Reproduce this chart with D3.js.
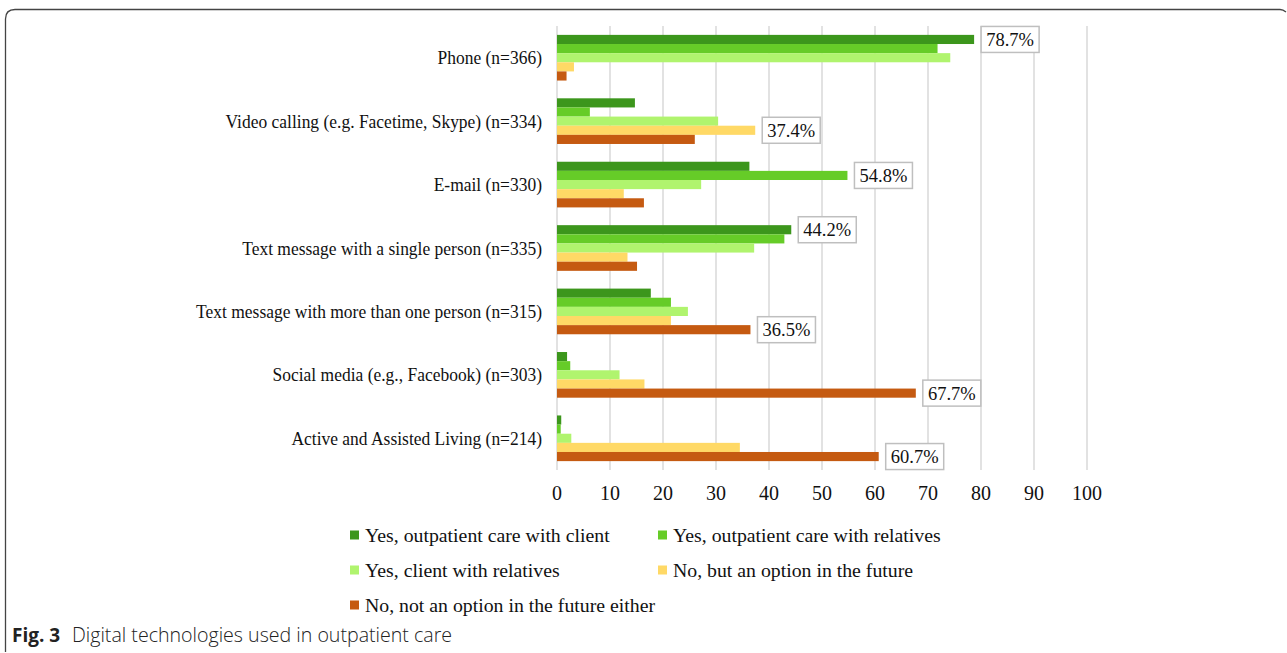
<!DOCTYPE html>
<meta charset="utf-8">
<head>
    <title>Digital technologies used in outpatient care</title>
    <script type="text/javascript" src="https://cdn.jsdelivr.net/npm/d3@7"></script>
    <style>
        body { margin: 0; background: #fff; }
        .cat text, .tick text { font-family: "Liberation Serif", "Times New Roman", serif; }
  </style>
</head>
<body>
    <div id="chart"></div>
    <script>
        // data (percent)
        var categories = ["Phone (n=366)", "Video calling (e.g. Facetime, Skype) (n=334)", "E-mail (n=330)",
          "Text message with a single person (n=335)", "Text message with more than one person (n=315)",
          "Social media (e.g., Facebook) (n=303)", "Active and Assisted Living (n=214)"]
        var seriesNames = ["Yes, outpatient care with client", "Yes, outpatient care with relatives",
          "Yes, client with relatives", "No, but an option in the future", "No, not an option in the future either"]
        var seriesColors = ["#3c961c", "#66cc28", "#b0f46e", "#ffd966", "#c55a11"]
        var careClient    = [78.7, 14.7, 36.3, 44.2, 17.7, 1.9, 0.8]
        var careRelatives = [71.8, 6.2, 54.8, 42.9, 21.5, 2.5, 0.7]
        var clientRel     = [74.2, 30.4, 27.2, 37.2, 24.7, 11.8, 2.7]
        var futureOption  = [3.2, 37.4, 12.6, 13.3, 21.5, 16.5, 34.5]
        var notFuture     = [1.8, 26.0, 16.4, 15.1, 36.5, 67.7, 60.7]
        var seriesValues = [careClient, careRelatives, clientRel, futureOption, notFuture]
        // which series gets the boxed label in each category
        var labelSeries = [0, 3, 1, 0, 4, 4, 4]
        var xTicks = [0, 10, 20, 30, 40, 50, 60, 70, 80, 90, 100]

        var width = 1287, height = 653
        var plot = {left: 557, right: 1087, top: 26, bottom: 470}

        var svg = d3.select("#chart").append("svg")
          .attr("width", width).attr("height", height)

        // frame with rounded top-left corner
        svg.append("path")
          .attr("d", "M5.5,652 L5.5,19 Q5.5,9.5 15,9.5 L1280,9.5 Q1283,9.5 1286,12")
          .attr("fill", "none").attr("stroke", "#444").attr("stroke-width", 1.3)

        var x = d3.scaleLinear().domain([0, 100]).range([plot.left, plot.right])
        var y = d3.scaleBand().domain(categories).range([plot.top, plot.bottom]).paddingInner(0.28).paddingOuter(0.14)
        var ySub = d3.scaleBand().domain(d3.range(seriesNames.length)).range([0, y.bandwidth()])

        // gridlines
        svg.append("g").selectAll("line")
          .data(xTicks).enter().append("line")
            .attr("x1", d => x(d)).attr("x2", d => x(d))
            .attr("y1", plot.top).attr("y2", plot.bottom)
            .attr("stroke", "#d9d9d9").attr("stroke-width", 1.5)

        // tick labels
        svg.append("g").attr("class", "tick").selectAll("text")
          .data(xTicks).enter().append("text")
            .attr("x", d => x(d)).attr("y", 500)
            .attr("text-anchor", "middle")
            .attr("font-size", "20px").attr("fill", "#111")
            .text(d => d)

        // category labels (slightly narrow, like the original)
        svg.append("g").attr("class", "cat").selectAll("text")
          .data(categories).enter().append("text")
            .attr("transform", d => "translate(542," + (y(d) + y.bandwidth() / 2 + 6.5) + ") scale(0.92,1)")
            .attr("text-anchor", "end")
            .attr("font-size", "19px").attr("fill", "#111")
            .text(d => d)

        // bars
        seriesValues.forEach(function(vals, s) {
          svg.append("g").selectAll("rect")
            .data(vals).enter().append("rect")
              .attr("x", x(0))
              .attr("y", (d, i) => y(categories[i]) + ySub(s))
              .attr("width", d => x(d) - x(0))
              .attr("height", ySub.bandwidth())
              .attr("fill", seriesColors[s])
        })

        // boxed value labels
        var lab = svg.append("g").attr("class", "cat")
        labelSeries.forEach(function(s, i) {
          var v = seriesValues[s][i]
          var cy = y(categories[i]) + ySub(s) + ySub.bandwidth() / 2
          var bx = x(v) + 7
          lab.append("rect")
            .attr("x", bx).attr("y", cy - 13).attr("width", 58).attr("height", 26)
            .attr("fill", "#fff").attr("stroke", "#bfbfbf").attr("stroke-width", 1.5)
          lab.append("text")
            .attr("x", bx + 29).attr("y", cy + 6.5)
            .attr("text-anchor", "middle").attr("font-size", "18.5px").attr("fill", "#111")
            .text(v.toFixed(1) + "%")
        })

        // legend
        var legend = svg.append("g").attr("class", "cat")
        seriesNames.forEach(function(name, i) {
          var lx = i % 2 == 0 ? 350 : 658
          var ly = 535 + Math.floor(i / 2) * 35
          legend.append("rect").attr("x", lx).attr("y", ly - 4.5).attr("width", 9).attr("height", 9)
            .attr("fill", seriesColors[i])
          legend.append("text").attr("x", lx + 15).attr("y", ly + 7)
            .attr("font-size", "19.8px").attr("fill", "#111").text(name)
        })

        // caption
        var cap = svg.append("text").attr("x", 12).attr("y", 642)
          .attr("font-family", "'Open Sans', 'Noto Sans', sans-serif").attr("font-size", "19.6px").attr("fill", "#222")
        cap.append("tspan").attr("font-weight", "bold").attr("font-size", "19px").text("Fig. 3")
        cap.append("tspan").attr("x", 72).attr("font-weight", 300).text("Digital technologies used in outpatient care")
    </script>
</body>
</html>
